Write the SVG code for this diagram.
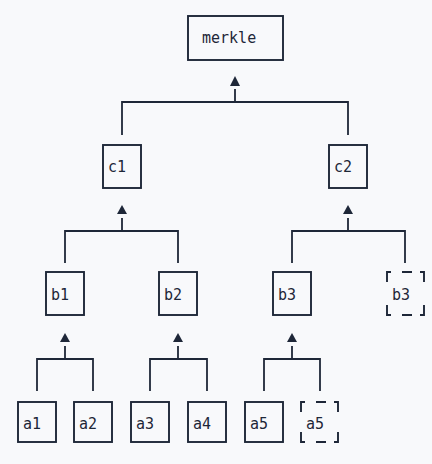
<svg xmlns="http://www.w3.org/2000/svg" width="432" height="464" viewBox="0 0 432 464">
<style>
.bg{fill:#f8f9fb}
.box{fill:none;stroke:#1e2738;stroke-width:1.9}
.ln{fill:none;stroke:#1e2738;stroke-width:1.8}
.ah{fill:#1e2738}
text{font-family:"DejaVu Sans Mono","Liberation Mono",monospace;font-size:15px;fill:#1e2738}
</style>
<rect class="bg" x="0" y="0" width="432" height="464"/>
<g id="connectors">
<path class="ln" d="M235,89V102M122,135V102H348V135"/>
<polygon class="ah" points="235,76 230,86 240,86"/>
<path class="ln" d="M122,218V231M65,263V231H178V263"/>
<polygon class="ah" points="122,205 117,214 127,214"/>
<path class="ln" d="M348,218V231M292,263V231H405V263"/>
<polygon class="ah" points="348,205 343,214 353,214"/>
<path class="ln" d="M65,346V359M37,391V359H93V391"/>
<polygon class="ah" points="65,333 60,342 70,342"/>
<path class="ln" d="M178,346V359M150,391V359H207V391"/>
<polygon class="ah" points="178,333 173,342 183,342"/>
<path class="ln" d="M292,346V359M264,391V359H320V391"/>
<polygon class="ah" points="292,333 287,342 297,342"/>
</g>
<g id="merkle"><rect class="box" x="188" y="16" width="95" height="44"/><text x="202" y="43">merkle</text></g>
<g id="c1"><rect class="box" x="103" y="145" width="38" height="43"/><text x="108" y="172">c1</text></g>
<g id="c2"><rect class="box" x="329" y="145" width="38" height="43"/><text x="334" y="172">c2</text></g>
<g id="b1"><rect class="box" x="46" y="272" width="38" height="43"/><text x="51" y="300">b1</text></g>
<g id="b2"><rect class="box" x="159" y="272" width="38" height="43"/><text x="164" y="300">b2</text></g>
<g id="b3"><rect class="box" x="273" y="272" width="38" height="43"/><text x="278" y="300">b3</text></g>
<g id="b3-dup"><path class="box" d="M387,282V272H391M402,272H412M420,272H424V282M387,305V315H391M402,315H412M420,315H424V305"/><text x="392" y="300">b3</text></g>
<g id="a1"><rect class="box" x="18" y="402" width="38" height="40"/><text x="23" y="429">a1</text></g>
<g id="a2"><rect class="box" x="74" y="402" width="38" height="40"/><text x="79" y="429">a2</text></g>
<g id="a3"><rect class="box" x="131" y="402" width="38" height="40"/><text x="136" y="429">a3</text></g>
<g id="a4"><rect class="box" x="188" y="402" width="38" height="40"/><text x="193" y="429">a4</text></g>
<g id="a5"><rect class="box" x="245" y="402" width="38" height="40"/><text x="250" y="429">a5</text></g>
<g id="a5-dup"><path class="box" d="M301,412V402H305M316,402H326M334,402H338V412M301,432V442H305M316,442H326M334,442H338V432"/><text x="306" y="429">a5</text></g>
</svg>
